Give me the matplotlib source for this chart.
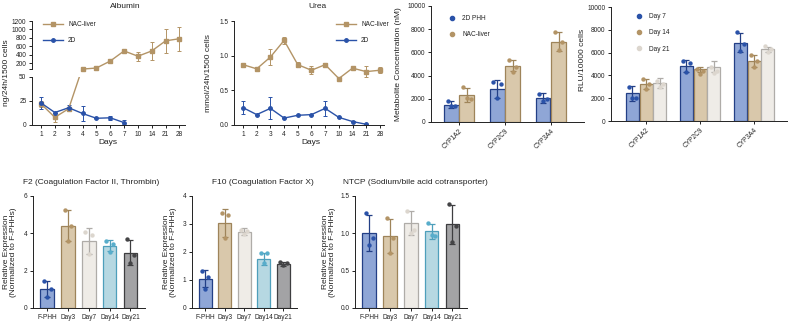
import numpy as np
import matplotlib.pyplot as plt
from matplotlib.ticker import FormatStrFormatter
from matplotlib.lines import Line2D

plt.rcParams['font.family'] = ['Liberation Sans', 'DejaVu Sans']
plt.rcParams['font.size'] = 4.7
plt.rcParams['text.color'] = '#222222'
plt.rcParams['xtick.color'] = '#222222'
plt.rcParams['ytick.color'] = '#222222'
plt.rcParams['axes.edgecolor'] = '#222222'
plt.rcParams['axes.linewidth'] = 0.7
plt.rcParams['xtick.major.size'] = 2.5
plt.rcParams['ytick.major.size'] = 2.5
plt.rcParams['xtick.major.width'] = 0.7
plt.rcParams['ytick.major.width'] = 0.7
plt.rcParams['xtick.major.pad'] = 1.5
plt.rcParams['ytick.major.pad'] = 1.5

W, H = 789, 324

# ---- data ----
days = ['1', '2', '3', '4', '5', '6', '7', '10', '14', '21', '28']

alb_nac = [22, 8, 17, 60, 85, 250, 490, 365, 490, 730, 780]
alb_nac_err = [3, 5, 2, 0, 0, 0, 0, 110, 215, 280, 285]
alb_2d = [23, 13, 18, 12, 7, 7.5, 2.5]
alb_2d_err = [6, 0, 2.5, 7.5, 0, 1.8, 2.5]

urea_nac = [0.87, 0.81, 0.98, 1.22, 0.87, 0.79, 0.87, 0.67, 0.82, 0.77, 0.79]
urea_nac_err = [0.015, 0.03, 0.11, 0.05, 0.04, 0.06, 0.02, 0, 0, 0.08, 0.04]
urea_2d = [0.25, 0.15, 0.24, 0.10, 0.14, 0.15, 0.24, 0.11, 0.05, 0.01]
urea_2d_err = [0.09, 0, 0.16, 0, 0, 0, 0.11, 0, 0.01, 0]

cyps = ['CYP1A2', 'CYP2C9', 'CYP3A4']

met_2d = [1480, 2830, 2060]
met_2d_sd = [290, 800, 420]
met_2d_pts = [[1770, 1400, 1400], [3480, 3260, 2060], [2430, 2000, 1800]]
met_nac = [2340, 4860, 6920]
met_nac_sd = [600, 480, 810]
met_nac_pts = [[3050, 2000, 2100], [5350, 4780, 4350], [7770, 6900, 6200]]

rlu_d7 = [2420, 4820, 6880]
rlu_d7_sd = [650, 520, 820]
rlu_d7_pts = [[3000, 2060, 2030], [5270, 5060, 4320], [7800, 6790, 6150]]
rlu_d14 = [3240, 4560, 5270]
rlu_d14_sd = [460, 220, 520]
rlu_d14_pts = [[3680, 3240, 2770], [4600, 4360, 4100], [5800, 5270, 4760]]
rlu_d21 = [3350, 4760, 6300]
rlu_d21_sd = [440, 500, 230]
rlu_d21_pts = [[3530, 3280, 2990], [4760, 4370, 4250], [6550, 6300, 6090]]

groups = ['F-PHH', 'Day3', 'Day7', 'Day14', 'Day21']

f2_mean = [1.03, 4.40, 3.59, 3.33, 2.97]
f2_sd = [0.42, 0.83, 0.68, 0.29, 0.66]
f2_pts = [[1.42, 1.03, 0.59], [5.25, 4.40, 3.59], [4.06, 3.91, 2.88],
          [3.59, 3.42, 3.02], [3.68, 2.85, 2.40]]

f10_mean = [1.04, 3.04, 2.72, 1.75, 1.56]
f10_sd = [0.30, 0.50, 0.13, 0.20, 0.07]
f10_pts = [[1.31, 1.09, 0.69], [3.38, 3.32, 2.50], [2.80, 2.75, 2.65],
           [1.95, 1.95, 1.60], [1.65, 1.60, 1.55]]

ntcp_mean = [1.01, 0.96, 1.14, 1.03, 1.12]
ntcp_sd = [0.24, 0.23, 0.16, 0.10, 0.26]
ntcp_pts = [[1.27, 0.94, 0.84], [1.20, 0.94, 0.74], [1.30, 1.04, 1.00],
            [1.14, 0.97, 0.98], [1.39, 1.10, 0.88]]

# ---- colours ----
blue = '#2A52A8'
tan = '#B39466'
fills = ['#8FA6D6', '#D9C8AB', '#EFECE7', '#B6D8E2', '#A3A3A5']
edges = ['#233F86', '#9E845A', '#AFACA8', '#4E9FBB', '#3E3E40']
dots = ['#2A52A8', '#B39466', '#DCD6CE', '#58ADCB', '#444446']


def px_axes(fig, left, top, right, bottom):
    return fig.add_axes([left / W, 1 - bottom / H, (right - left) / W, (bottom - top) / H])


def clean(ax):
    for s in ('top', 'right'):
        ax.spines[s].set_visible(False)


def draw_bars(ax, xpos, means, sds, pts, width, fill, edge, dot):
    ax.bar(xpos, means, width=width, color=fill, edgecolor=edge, linewidth=0.9, zorder=2)
    ax.errorbar(xpos, means, yerr=sds, fmt='none', ecolor=edge, elinewidth=0.9,
                capsize=2, capthick=0.9, zorder=3)
    jit = np.array([-0.25, 0.25, 0.0]) * width
    for xp, p in zip(xpos, pts):
        ax.scatter(xp + jit[:len(p)], p, s=10, color=dot, zorder=4, linewidths=0)


fig = plt.figure(figsize=(W / 100, H / 100), dpi=100)
x = np.arange(len(days))
xlim = (-0.65, 10.4)

# ---- Albumin (broken y axis) ----
ax_hi = px_axes(fig, 32, 21, 185, 69.5)
ax_lo = px_axes(fig, 32, 77, 185, 125)
line_kw = dict(lw=1.0, ms=2.5, capsize=1.5, elinewidth=0.7, capthick=0.7)

ax_lo.errorbar(x[:5], alb_nac[:5], yerr=alb_nac_err[:5], color=tan, marker='s', **line_kw)
ax_lo.errorbar(x[:7], alb_2d, yerr=alb_2d_err, color=blue, marker='o', **line_kw)
ax_lo.set_ylim(0, 50)
ax_lo.set_yticks([0, 25, 50])
ax_lo.set_xlim(*xlim)
ax_lo.set_xticks(x)
ax_lo.set_xticklabels(days)
clean(ax_lo)

ax_hi.errorbar(x[3:], alb_nac[3:], yerr=alb_nac_err[3:], color=tan, marker='s',
               clip_on=False, **line_kw)
ax_hi.set_ylim(50, 1200)
ax_hi.set_yticks([200, 400, 600, 800, 1000, 1200])
ax_hi.set_yticks([50], minor=True)
ax_hi.tick_params(axis='y', which='minor', length=2.5, width=0.7)
ax_hi.set_xlim(*xlim)
ax_hi.set_xticks([])
for s in ('top', 'right', 'bottom'):
    ax_hi.spines[s].set_visible(False)
ax_hi.legend(handles=[Line2D([], [], color=tan, marker='s', ms=2.5, lw=1.0, label='NAC-liver'),
                      Line2D([], [], color=blue, marker='o', ms=2.5, lw=1.0, label='2D')],
             loc='upper left', bbox_to_anchor=(40 / W, 1 - 18 / H), bbox_transform=fig.transFigure,
             frameon=False, fontsize=4.7, handlelength=3, labelspacing=1.4, borderpad=0)

fig.text(125 / W, 1 - 7 / H, 'Albumin', ha='center', va='center', fontsize=6)
fig.text(7 / W, 1 - 73 / H, 'ng/24h/1500 cells', rotation=90, ha='center', va='center', fontsize=6)
fig.text(108 / W, 1 - 143 / H, 'Days', ha='center', va='center', fontsize=6)

# ---- Urea ----
ax_u = px_axes(fig, 234, 21, 384, 125)
ax_u.errorbar(x, urea_nac, yerr=urea_nac_err, color=tan, marker='s', **line_kw)
ax_u.errorbar(x[:len(urea_2d)], urea_2d, yerr=urea_2d_err, color=blue, marker='o', **line_kw)
ax_u.set_ylim(0, 1.5)
ax_u.set_yticks([0, 0.5, 1.0, 1.5])
ax_u.yaxis.set_major_formatter(FormatStrFormatter('%.1f'))
ax_u.set_xlim(-0.66, 10.3)
ax_u.set_xticks(x)
ax_u.set_xticklabels(days)
clean(ax_u)
ax_u.legend(handles=[Line2D([], [], color=tan, marker='s', ms=2.5, lw=1.0, label='NAC-liver'),
                     Line2D([], [], color=blue, marker='o', ms=2.5, lw=1.0, label='2D')],
            loc='upper left', bbox_to_anchor=(333 / W, 1 - 18 / H), bbox_transform=fig.transFigure,
            frameon=False, fontsize=4.7, handlelength=3, labelspacing=1.4, borderpad=0)

fig.text(317 / W, 1 - 7 / H, 'Urea', ha='center', va='center', fontsize=6)
fig.text(209 / W, 1 - 73 / H, 'mmol/24h/1500 cells', rotation=90, ha='center', va='center', fontsize=6)
fig.text(311 / W, 1 - 143 / H, 'Days', ha='center', va='center', fontsize=6)

# ---- Metabolite concentration ----
gx = np.arange(len(cyps))
ax_m = px_axes(fig, 431, 6, 584, 122)
draw_bars(ax_m, gx - 0.17, met_2d, met_2d_sd, met_2d_pts, 0.32, fills[0], edges[0], dots[0])
draw_bars(ax_m, gx + 0.17, met_nac, met_nac_sd, met_nac_pts, 0.32, fills[1], edges[1], dots[1])
ax_m.set_ylim(0, 10000)
ax_m.set_yticks(range(0, 10001, 2000))
ax_m.set_xlim(-0.61, 2.72)
ax_m.set_xticks(gx)
ax_m.set_xticklabels(cyps, rotation=45, ha='right', rotation_mode='anchor')
clean(ax_m)
ax_m.legend(handles=[Line2D([], [], ls='none', marker='o', ms=3, color=dots[0], label='2D PHH'),
                     Line2D([], [], ls='none', marker='o', ms=3, color=dots[1], label='NAC-liver')],
            loc='upper left', bbox_to_anchor=(444 / W, 1 - 12 / H), bbox_transform=fig.transFigure,
            frameon=False, fontsize=4.7, handlelength=1.5, labelspacing=1.4, borderpad=0)
fig.text(399 / W, 1 - 64 / H, 'Metabolite Concentration (nM)', rotation=90,
         ha='center', va='center', fontsize=6)

# ---- RLU ----
ax_r = px_axes(fig, 611, 7, 787, 121)
draw_bars(ax_r, gx - 0.255, rlu_d7, rlu_d7_sd, rlu_d7_pts, 0.24, fills[0], edges[0], dots[0])
draw_bars(ax_r, gx, rlu_d14, rlu_d14_sd, rlu_d14_pts, 0.24, fills[1], edges[1], dots[1])
draw_bars(ax_r, gx + 0.255, rlu_d21, rlu_d21_sd, rlu_d21_pts, 0.24, fills[2], edges[2], dots[2])
ax_r.set_ylim(0, 10000)
ax_r.set_yticks(range(0, 10001, 2000))
ax_r.set_xlim(-0.65, 2.61)
ax_r.set_xticks(gx)
ax_r.set_xticklabels(cyps, rotation=45, ha='right', rotation_mode='anchor')
clean(ax_r)
ax_r.legend(handles=[Line2D([], [], ls='none', marker='o', ms=3, color=dots[0], label='Day 7'),
                     Line2D([], [], ls='none', marker='o', ms=3, color=dots[1], label='Day 14'),
                     Line2D([], [], ls='none', marker='o', ms=3, color=dots[2], label='Day 21')],
            loc='upper left', bbox_to_anchor=(631 / W, 1 - 10 / H), bbox_transform=fig.transFigure,
            frameon=False, fontsize=4.7, handlelength=1.5, labelspacing=1.4, borderpad=0)
fig.text(583 / W, 1 - 60 / H, 'RLU/10000 cells', rotation=90, ha='center', va='center', fontsize=6)

# ---- gene expression panels ----
bx = np.arange(len(groups))


def expr_panel(left, right, means, sds, pts, ylim, yticks, fmt, title, title_x, lab_x):
    ax = px_axes(fig, left, 196, right, 308)
    for i in range(len(groups)):
        draw_bars(ax, [bx[i]], [means[i]], [sds[i]], [pts[i]], 0.65,
                  fills[i], edges[i], dots[i])
    ax.set_ylim(*ylim)
    ax.set_yticks(yticks)
    if fmt:
        ax.yaxis.set_major_formatter(FormatStrFormatter(fmt))
    ax.set_xlim(-0.68, 4.7)
    ax.set_xticks(bx)
    ax.set_xticklabels(groups)
    clean(ax)
    fig.text(title_x / W, 1 - 182 / H, title, ha='left', va='center', fontsize=6)
    fig.text(lab_x / W, 1 - 252 / H, 'Relative Expression\n(Normalized to F-PHHs)',
             rotation=90, ha='center', va='center', fontsize=6, linespacing=1.1,
             multialignment='center')
    return ax


expr_panel(33, 145, f2_mean, f2_sd, f2_pts, (0, 6), [0, 2, 4, 6], None,
           'F2 (Coagulation Factor II, Thrombin)', 23, 10)
expr_panel(192, 297, f10_mean, f10_sd, f10_pts, (0, 4), [0, 1, 2, 3, 4], None,
           'F10 (Coagulation Factor X)', 212, 170)
expr_panel(355, 467, ntcp_mean, ntcp_sd, ntcp_pts, (0, 1.5), [0, 0.5, 1.0, 1.5], '%.1f',
           'NTCP (Sodium/bile acid cotransporter)', 343, 329)

fig.savefig('out.png', dpi=100)
